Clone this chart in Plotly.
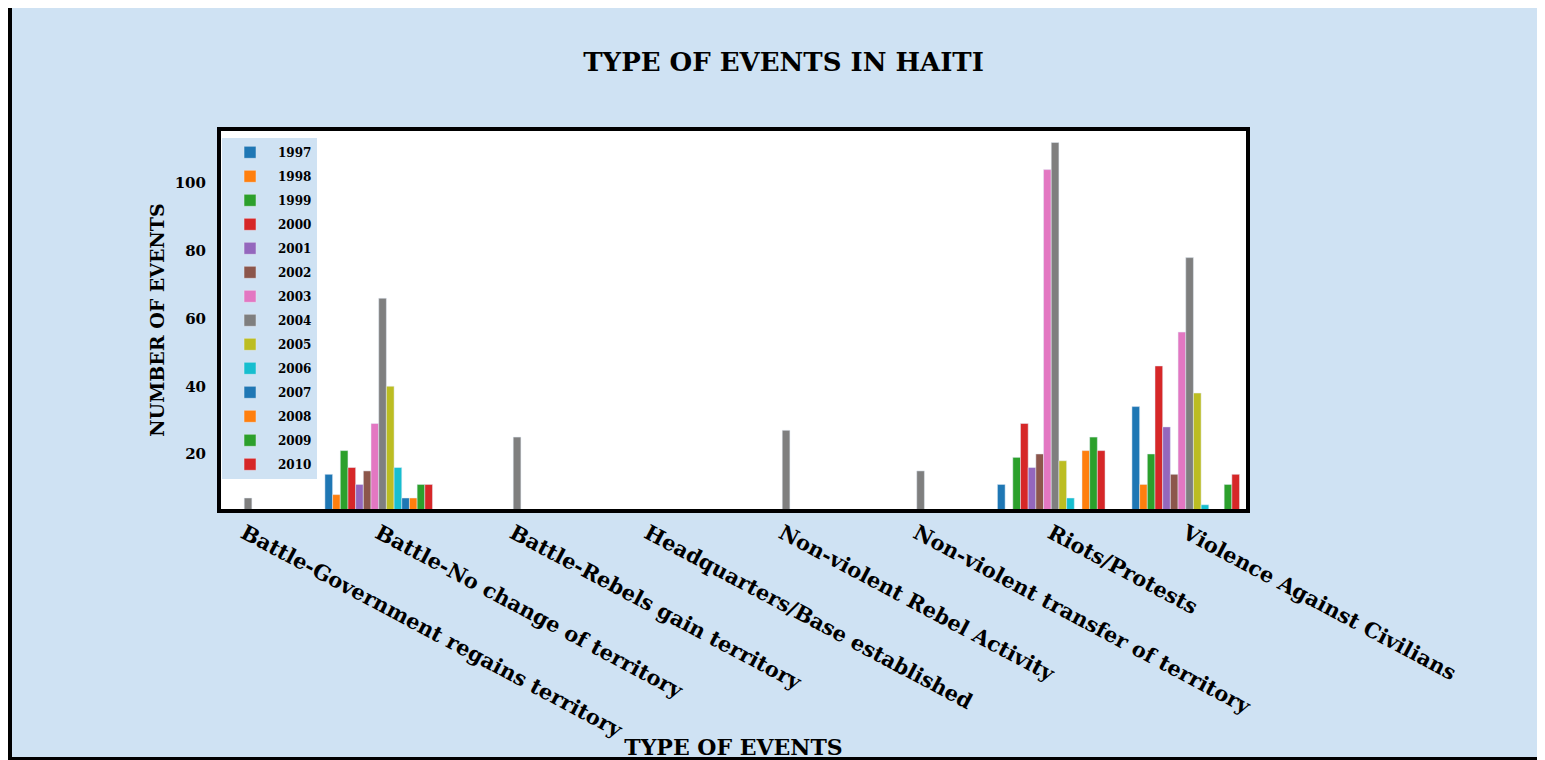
import plotly.graph_objects as go

categories = [
    "Battle-Government regains territory",
    "Battle-No change of territory",
    "Battle-Rebels gain territory",
    "Headquarters/Base established",
    "Non-violent Rebel Activity",
    "Non-violent transfer of territory",
    "Riots/Protests",
    "Violence Against Civilians",
]
years = ["1997", "1998", "1999", "2000", "2001", "2002", "2003",
         "2004", "2005", "2006", "2007", "2008", "2009", "2010"]

v1997 = [0, 14, 0, 0, 0, 0, 11, 34]
v1998 = [0, 8, 0, 0, 0, 0, 0, 11]
v1999 = [0, 21, 0, 0, 0, 0, 19, 20]
v2000 = [0, 16, 0, 0, 0, 0, 29, 46]
v2001 = [0, 11, 0, 0, 0, 0, 16, 28]
v2002 = [0, 15, 0, 0, 0, 0, 20, 14]
v2003 = [0, 29, 0, 0, 0, 0, 104, 56]
v2004 = [7, 66, 25, 0, 27, 15, 112, 78]
v2005 = [0, 40, 0, 0, 0, 0, 18, 38]
v2006 = [0, 16, 0, 0, 0, 0, 7, 5]
v2007 = [0, 7, 0, 0, 0, 0, 0, 0]
v2008 = [0, 7, 0, 0, 0, 0, 21, 0]
v2009 = [0, 11, 0, 0, 0, 0, 25, 11]
v2010 = [0, 11, 0, 0, 0, 0, 21, 14]

series = [v1997, v1998, v1999, v2000, v2001, v2002, v2003,
          v2004, v2005, v2006, v2007, v2008, v2009, v2010]

colors = ['#1f77b4', '#ff7f0e', '#2ca02c', '#d62728', '#9467bd',
          '#8c564b', '#e377c2', '#7f7f7f', '#bcbd22', '#17becf']

FONT = "DejaVu Serif"
BG = "#cfe2f3"

fig = go.Figure()
for i, (yr, vals) in enumerate(zip(years, series)):
    fig.add_trace(go.Bar(x=categories, y=vals, name=yr,
                         marker_color=colors[i % 10], legendgroup=yr))

W, H = 1537, 752
ML, MR, MT, MB = 213, 299, 123, 251

fig.update_layout(
    width=W, height=H,
    margin=dict(l=ML, r=MR, t=MT, b=MB, autoexpand=False),
    paper_bgcolor=BG, plot_bgcolor="white",
    barmode="group", bargap=0.2,
    font=dict(family=FONT, color="black", weight="bold"),
    title=dict(text="TYPE OF EVENTS IN HAITI", x=0.5046, xanchor="center",
               y=1 - 54 / H, yanchor="middle",
               font=dict(family=FONT, size=26, color="black", weight="bold")),
    legend=dict(x=0.001, y=0.982, xanchor="left", yanchor="top",
                bgcolor=BG, tracegroupgap=5, itemwidth=46,
                font=dict(family=FONT, size=12, color="black", weight="bold")),
    showlegend=True,
)
fig.update_xaxes(
    range=[-0.1725, 7.448], showline=True, mirror=True, linecolor="black",
    linewidth=4, showgrid=False, zeroline=False, tickangle=28,
    tickfont=dict(family=FONT, size=21, color="black", weight="bold"),
    title=dict(text="TYPE OF EVENTS",
               font=dict(family=FONT, size=22, color="black", weight="bold")),
)
fig.update_yaxes(
    range=[3.75, 115.4], showline=True, mirror=True, linecolor="black",
    linewidth=4, showgrid=False, zeroline=False,
    tickvals=[20, 40, 60, 80, 100], ticklabelstandoff=8,
    tickfont=dict(family=FONT, size=15, color="black", weight="bold"),
    title=dict(text="NUMBER OF EVENTS", standoff=6,
               font=dict(family=FONT, size=19, color="black", weight="bold")),
)

# outer black frame strips (left and bottom)
fig.add_shape(type="rect", xref="paper", yref="paper", layer="above",
              x0=-ML / 1025, x1=(-ML + 4) / 1025, y0=-MB / 378, y1=(MT + 378) / 378,
              fillcolor="black", line_width=0)
fig.add_shape(type="rect", xref="paper", yref="paper", layer="above",
              x0=-ML / 1025, x1=(W - ML) / 1025, y0=-MB / 378, y1=(-MB + 3) / 378,
              fillcolor="black", line_width=0)

fig.write_html("out.html")
